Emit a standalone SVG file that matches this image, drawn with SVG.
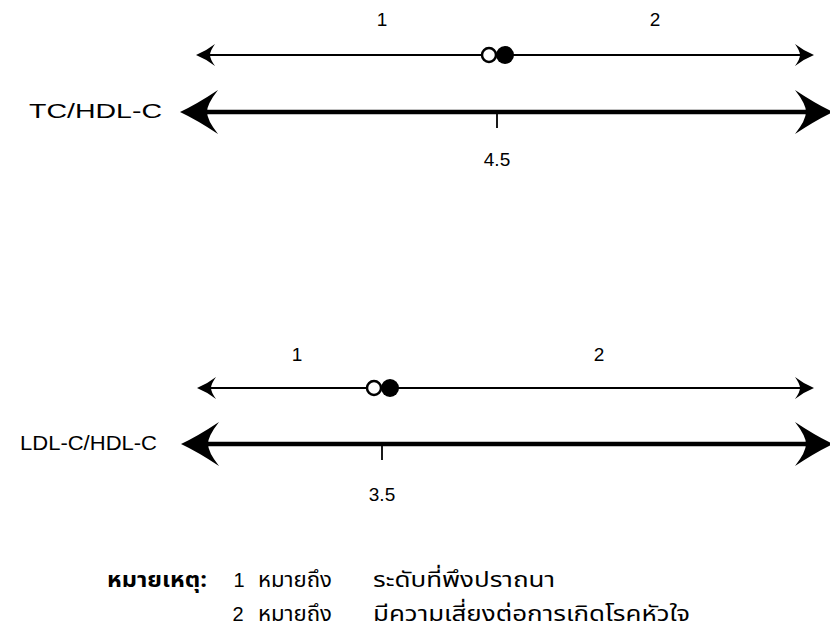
<svg xmlns="http://www.w3.org/2000/svg" width="830" height="639" viewBox="0 0 830 639">
  <style>
    .lbl { font-family: "Liberation Sans", "DejaVu Sans", sans-serif; font-size: 20px; fill: #000; }
    .num { font-family: "Liberation Sans", "DejaVu Sans", sans-serif; font-size: 19px; fill: #000; }
    .th { font-family: "Noto Sans Thai", "Loma", "Garuda", "Tlwg Typo", "DejaVu Sans", "Noto Sans", sans-serif; font-size: 22px; fill: #000; }
    .thb { font-weight: bold; }
    .thin { stroke: #000; stroke-width: 2; fill: none; }
    .thick { stroke: #000; stroke-width: 4.5; fill: none; }
    .tick { stroke: #000; stroke-width: 1.8; }
    .open { fill: #fff; stroke: #000; stroke-width: 2.5; }
    .dot { fill: #000; }
  </style>
  <defs>
    <!-- barbed heads; the notch sits on the line end, the tip reaches past it -->
    <marker id="headThin" markerUnits="userSpaceOnUse" markerWidth="40" markerHeight="40" refX="0" refY="0" viewBox="-20 -20 40 40" orient="auto-start-reverse" overflow="visible">
      <path d="M14,0 Q4,-4 -5,-11 Q0,-4 0,0 Q0,4 -5,11 Q4,4 14,0 Z" fill="#000"/>
    </marker>
    <marker id="headThick" markerUnits="userSpaceOnUse" markerWidth="80" markerHeight="80" refX="0" refY="0" viewBox="-40 -40 80 80" orient="auto-start-reverse" overflow="visible">
      <path d="M27,0 Q10,-8 -11,-22 Q0,-8 0,0 Q0,8 -11,22 Q10,8 27,0 Z" fill="#000"/>
    </marker>
  </defs>

  <!-- TC/HDL-C scale -->
  <g id="tc-scale">
    <text class="num" x="382" y="26" text-anchor="middle">1</text>
    <text class="num" x="655" y="26" text-anchor="middle">2</text>
    <text class="lbl" x="162" y="118" text-anchor="end" textLength="133" lengthAdjust="spacingAndGlyphs">TC/HDL-C</text>
    <text class="num" x="497" y="166" text-anchor="middle">4.5</text>
  </g>

  <!-- LDL-C/HDL-C scale -->
  <g id="ldl-scale">
    <text class="num" x="297" y="361" text-anchor="middle">1</text>
    <text class="num" x="599" y="361" text-anchor="middle">2</text>
    <text class="lbl" x="157" y="450" text-anchor="end" textLength="137" lengthAdjust="spacingAndGlyphs">LDL-C/HDL-C</text>
    <text class="num" x="382" y="501" text-anchor="middle">3.5</text>
  </g>

  <!-- scale lines, ticks and cut points -->
  <g id="connectors">
    <line class="thin" x1="210" y1="55" x2="800" y2="55" marker-start="url(#headThin)" marker-end="url(#headThin)"/>
    <line class="thick" x1="207" y1="112" x2="806" y2="112" marker-start="url(#headThick)" marker-end="url(#headThick)"/>
    <line class="tick" x1="497" y1="112" x2="497" y2="128"/>
    <circle class="open" cx="489" cy="55" r="7"/>
    <circle class="dot" cx="505" cy="55" r="9"/>

    <line class="thin" x1="211" y1="388" x2="800" y2="388" marker-start="url(#headThin)" marker-end="url(#headThin)"/>
    <line class="thick" x1="208" y1="444" x2="806" y2="444" marker-start="url(#headThick)" marker-end="url(#headThick)"/>
    <line class="tick" x1="382" y1="444" x2="382" y2="460"/>
    <circle class="open" cx="374" cy="388" r="7"/>
    <circle class="dot" cx="390" cy="388" r="9"/>
  </g>

  <!-- legend -->
  <g id="legend">
    <text class="th thb" x="107" y="587" textLength="100" lengthAdjust="spacingAndGlyphs">หมายเหตุ:</text>
    <text class="num" x="239" y="587" text-anchor="middle" style="font-size:20px">1</text>
    <text class="th" x="258" y="587" textLength="74" lengthAdjust="spacingAndGlyphs">หมายถึง</text>
    <text class="th" x="373" y="587" textLength="182" lengthAdjust="spacingAndGlyphs">ระดับที่พึงปราถนา</text>
    <text class="num" x="238" y="621" text-anchor="middle" style="font-size:20px">2</text>
    <text class="th" x="258" y="621" textLength="74" lengthAdjust="spacingAndGlyphs">หมายถึง</text>
    <text class="th" x="373" y="621" textLength="317" lengthAdjust="spacingAndGlyphs">มีความเสี่ยงต่อการเกิดโรคหัวใจ</text>
  </g>
</svg>
